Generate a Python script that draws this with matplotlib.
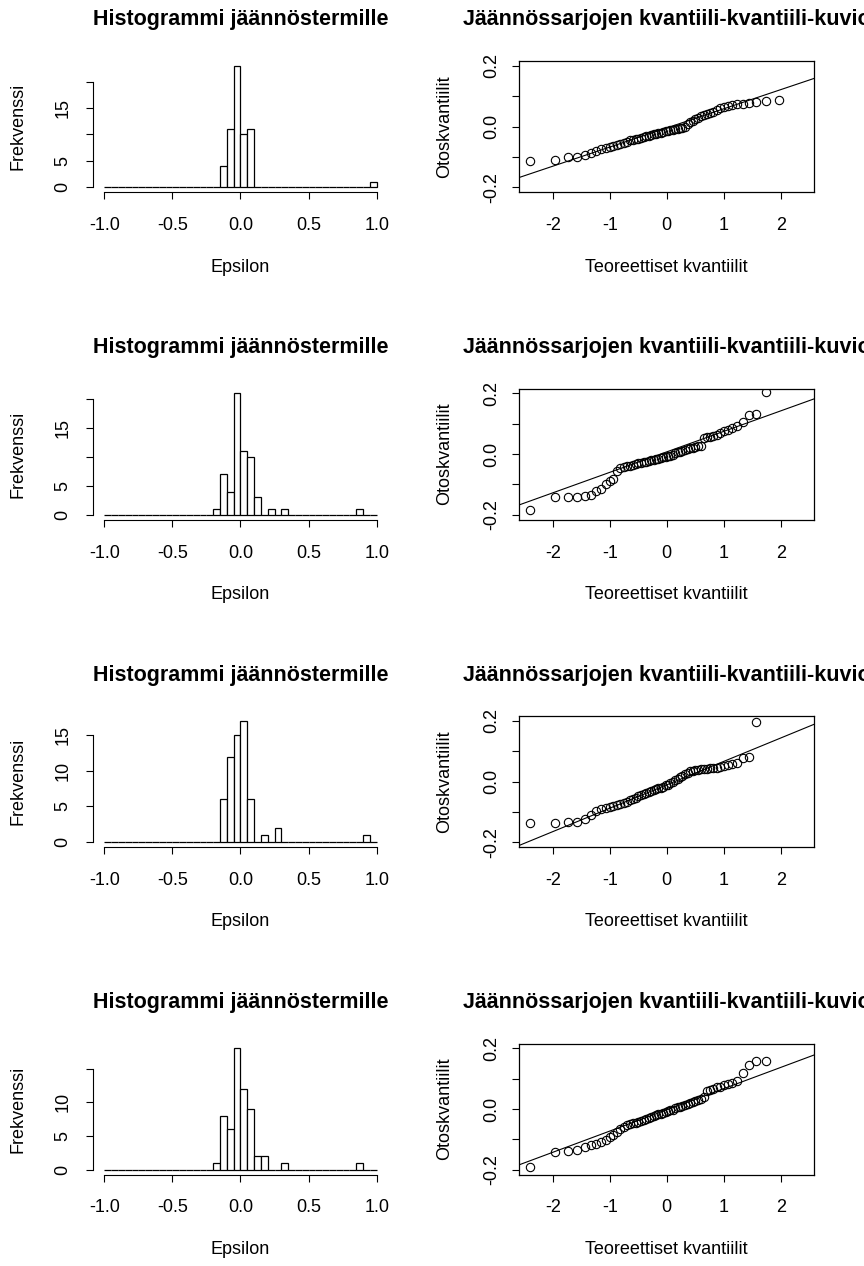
"""Residual histograms and normal QQ plots for four residual series (R-style 4x2 panel)."""
from statistics import NormalDist

import matplotlib
matplotlib.use("Agg")
import matplotlib.pyplot as plt
import numpy as np

plt.rcParams["font.family"] = ["Liberation Sans", "DejaVu Sans"]

# Residual series (sorted; outliers beyond the QQ ylim are clipped there)
RESID_1 = [-0.113, -0.109, -0.102, -0.101,
           -0.094, -0.086, -0.080, -0.075, -0.071, -0.068, -0.065, -0.062, -0.059, -0.055, -0.051,
           -0.046, -0.044, -0.042, -0.040, -0.037, -0.034, -0.032, -0.030, -0.028, -0.026, -0.024,
           -0.022, -0.020, -0.018, -0.016, -0.014, -0.012, -0.011, -0.009, -0.007, -0.006, -0.004, -0.002,
           0.008, 0.014, 0.019, 0.024, 0.029, 0.033, 0.037, 0.041, 0.045, 0.049,
           0.056, 0.061, 0.065, 0.068, 0.071, 0.073, 0.074, 0.078, 0.082, 0.084, 0.086,
           0.97]
RESID_2 = [-0.184,
           -0.143, -0.142, -0.141, -0.139, -0.136, -0.122, -0.117,
           -0.098, -0.089, -0.082, -0.055,
           -0.047, -0.043, -0.040, -0.038, -0.035, -0.033, -0.031, -0.029, -0.027, -0.025, -0.023,
           -0.021, -0.019, -0.017, -0.015, -0.013, -0.011, -0.009, -0.007, -0.005, -0.002,
           0.002, 0.005, 0.008, 0.011, 0.014, 0.017, 0.019, 0.021, 0.023, 0.025, 0.027,
           0.052, 0.055, 0.057, 0.060, 0.064, 0.069, 0.075, 0.080, 0.087, 0.093,
           0.107, 0.129, 0.131,
           0.203, 0.32, 0.87]
RESID_3 = [-0.136, -0.136, -0.135, -0.133, -0.124, -0.111,
           -0.097, -0.090, -0.086, -0.084, -0.082, -0.079, -0.075, -0.070, -0.066, -0.062, -0.058, -0.053,
           -0.048, -0.045, -0.042, -0.038, -0.035, -0.032, -0.029, -0.026, -0.023, -0.020, -0.017,
           -0.013, -0.010, -0.006, -0.002,
           0.004, 0.009, 0.014, 0.019, 0.024, 0.029, 0.033, 0.036, 0.038, 0.039, 0.040, 0.041, 0.042,
           0.043, 0.044, 0.046, 0.048,
           0.051, 0.054, 0.058, 0.062, 0.078, 0.080,
           0.197, 0.26, 0.28, 0.93]
RESID_4 = [-0.190,
           -0.142, -0.138, -0.136, -0.125, -0.118, -0.115, -0.108, -0.102,
           -0.092, -0.085, -0.075, -0.066, -0.058, -0.053,
           -0.049, -0.047, -0.045, -0.042, -0.039, -0.036, -0.033, -0.030, -0.027, -0.024, -0.021,
           -0.018, -0.015, -0.012, -0.009, -0.007, -0.004, -0.002,
           0.002, 0.005, 0.008, 0.011, 0.014, 0.017, 0.020, 0.023, 0.026, 0.030, 0.034, 0.040,
           0.058, 0.063, 0.067, 0.071, 0.074, 0.078, 0.082, 0.087, 0.092,
           0.120, 0.144, 0.157, 0.158, 0.32, 0.88]
SERIES = [RESID_1, RESID_2, RESID_3, RESID_4]

HIST_XTICKS = [-1.0, -0.5, 0.0, 0.5, 1.0]
HIST_XLABELS = ["-1.0", "-0.5", "0.0", "0.5", "1.0"]
# R drops y labels that would overlap
HIST_YTICKS = [[0, 5, 10, 15, 20], [0, 5, 10, 15, 20], [0, 5, 10, 15], [0, 5, 10, 15]]
HIST_YLABELS = [["0", "5", "", "15", ""], ["0", "5", "", "15", ""],
                ["0", "5", "10", "15"], ["0", "5", "10", ""]]
QQ_XTICKS = [-2, -1, 0, 1, 2]
QQ_YTICKS = [-0.2, -0.1, 0.0, 0.1, 0.2]
QQ_YLABELS = ["-0.2", "", "0.0", "", "0.2"]

HIST_TITLE = "Histogrammi jäännöstermille"
QQ_TITLE = "Jäännössarjojen kvantiili-kvantiili-kuvio"

W, H = 864, 1266
ROW_STEP = 327.5
TOP0, PH = 61, 131
FS, FS_TITLE = 13, 15.5


def px_axes(fig, left, top, width, height):
    return fig.add_axes([left / W, 1 - (top + height) / H, width / W, height / H])


def style_ticks(ax, ypad):
    ax.tick_params(direction="out", length=5, width=0.8, labelsize=FS, colors="black")
    ax.tick_params(axis="x", pad=13)
    ax.tick_params(axis="y", pad=ypad, labelrotation=90)
    for lab in ax.get_yticklabels():
        lab.set_va("center")


def draw_hist(ax, data, k):
    counts, edges, _ = ax.hist(data, bins=np.linspace(-1, 1, 41), facecolor="white",
                               edgecolor="black", linewidth=0.9)
    ymax = counts.max()
    ax.set_xlim(-1.08, 1.08)
    ax.set_ylim(-0.04 * ymax, 1.04 * ymax)
    for s in ("top", "right"):
        ax.spines[s].set_visible(False)
    ax.spines["bottom"].set_bounds(-1, 1)
    ax.spines["left"].set_bounds(HIST_YTICKS[k][0], HIST_YTICKS[k][-1])
    for s in ("bottom", "left"):
        ax.spines[s].set_linewidth(0.8)
    ax.set_xticks(HIST_XTICKS, HIST_XLABELS)
    ax.set_yticks(HIST_YTICKS[k], HIST_YLABELS[k])
    style_ticks(ax, 11)
    ax.set_xlabel("Epsilon", fontsize=FS, va="center")
    ax.xaxis.set_label_coords(0.5, -75 / PH)
    ax.set_ylabel("Frekvenssi", fontsize=FS, va="center")
    ax.yaxis.set_label_coords(-75 / 294.2, 0.5)
    ax.text(0.5, 1 + 41 / PH, HIST_TITLE, transform=ax.transAxes, ha="center", va="center",
            fontsize=FS_TITLE, fontweight="bold")


def draw_qq(ax, data):
    y = np.sort(np.asarray(data))
    n = len(y)
    nd = NormalDist()
    x = np.array([nd.inv_cdf((i - 0.5) / n) for i in range(1, n + 1)])
    ax.plot(x, y, "o", mfc="none", mec="black", ms=6, mew=0.8)
    # qqline through first and third quartiles
    q1, q3 = np.quantile(y, [0.25, 0.75])
    z1, z3 = nd.inv_cdf(0.25), nd.inv_cdf(0.75)
    slope = (q3 - q1) / (z3 - z1)
    ax.axline((z1, q1), slope=slope, color="black", lw=0.8)
    xr = np.abs(x).max()
    ax.set_xlim(-xr * 1.08, xr * 1.08)
    ax.set_ylim(-0.216, 0.216)
    for s in ax.spines.values():
        s.set_linewidth(0.9)
    ax.set_xticks(QQ_XTICKS, [str(t) for t in QQ_XTICKS])
    ax.set_yticks(QQ_YTICKS, QQ_YLABELS)
    style_ticks(ax, 9)
    ax.set_xlabel("Teoreettiset kvantiilit", fontsize=FS, va="center")
    ax.xaxis.set_label_coords(0.5, -75 / PH)
    ax.set_ylabel("Otoskvantiilit", fontsize=FS, va="center")
    ax.yaxis.set_label_coords(-75 / 295, 0.5)
    ax.text(0.5, 1 + 41 / PH, QQ_TITLE, transform=ax.transAxes, ha="center", va="center",
            fontsize=FS_TITLE, fontweight="bold")


fig = plt.figure(figsize=(W / 100, H / 100), dpi=100)
for k, data in enumerate(SERIES):
    top = TOP0 + k * ROW_STEP
    draw_hist(px_axes(fig, 93.4, top, 294.2, PH), data, k)
    draw_qq(px_axes(fig, 519.3, top, 295, PH), data)

fig.savefig("out.png", dpi=100)
